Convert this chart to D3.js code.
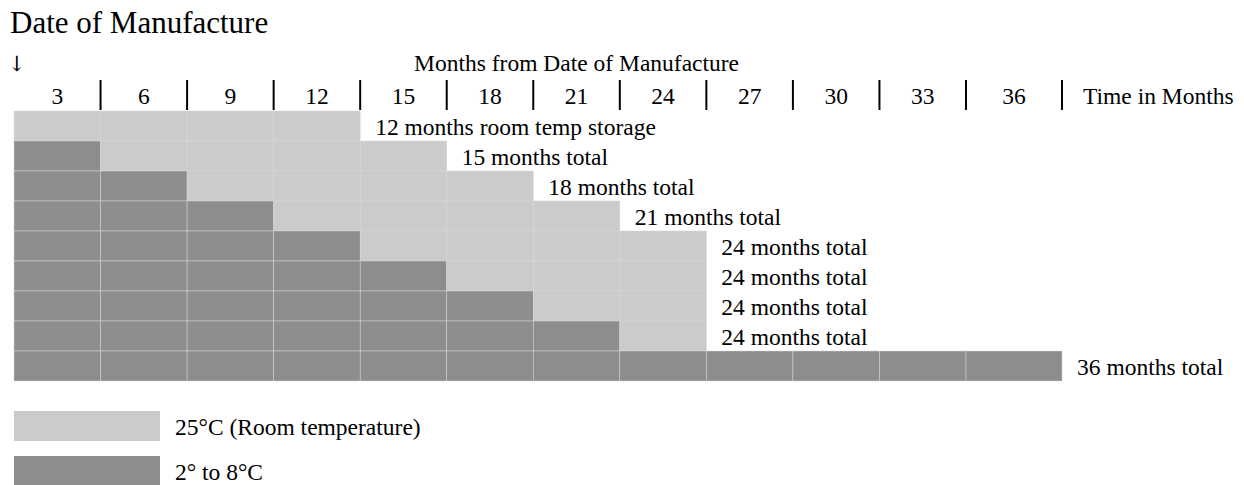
<!DOCTYPE html>
<meta http-equiv="content-type" content="text/html; charset=utf-8">
<style>
body { margin:0; background:#fff; }
text { font-family:"Liberation Serif","Times New Roman",serif; fill:#000; }
</style>
<body>
<div id="chart"></div>
<script src="https://d3js.org/d3.v7.min.js"></script>
<script>
// months at which the header separators sit
var tickMonths = [3, 6, 9, 12, 15, 18, 21, 24, 27, 30, 33, 36];
// each row: months at 2-8 C first, then months at room temp
var coldMonths = [0, 3, 6, 9, 12, 15, 18, 21, 36];
var roomMonths = [12, 12, 12, 12, 12, 9, 6, 3, 0];
var barLabels = ["12 months room temp storage", "15 months total", "18 months total",
  "21 months total", "24 months total", "24 months total", "24 months total",
  "24 months total", "36 months total"];
var legendLabels = ["25°C (Room temperature)", "2° to 8°C"];

var width = 1244, height = 485;
var lightGrey = "#cbcbcb", darkGrey = "#8d8d8d";

var svg = d3.select("#chart").append("svg")
    .attr("width", width)
    .attr("height", height);

var x = d3.scaleLinear()
    .domain([0, 33, 36])
    .range([14, 966, 1062]);

var y = d3.scaleBand()
    .domain(d3.range(coldMonths.length))
    .range([111, 381]);

var fill = d3.scaleOrdinal()
    .domain(["room", "cold"])
    .range([lightGrey, darkGrey]);

// title + header
svg.append("text")
  .attr("x", 10).attr("y", 33)
  .attr("font-size", 31)
  .text("Date of Manufacture");

svg.append("text")
  .attr("x", 8).attr("y", 71)
  .style("font-family", "DejaVu Serif, DejaVu Sans")
  .style("font-size", "21px")
  .text("↓");

svg.append("text")
  .attr("x", x(19.5)).attr("y", 71)
  .attr("font-size", 23.5)
  .attr("text-anchor", "middle")
  .text("Months from Date of Manufacture");

var hdr = svg.append("g");
hdr.selectAll("line")
  .data(tickMonths)
  .enter().append("line")
    .attr("x1", function(d) { return x(d); })
    .attr("x2", function(d) { return x(d); })
    .attr("y1", 80).attr("y2", 110)
    .attr("stroke", "#000")
    .attr("stroke-width", 2);

hdr.selectAll("text")
  .data(tickMonths)
  .enter().append("text")
    .attr("x", function(d) { return (x(d - 3) + x(d)) / 2; })
    .attr("y", 104)
    .attr("font-size", 23.5)
    .attr("text-anchor", "middle")
    .text(function(d) { return d; });

svg.append("text")
  .attr("x", x(36) + 21).attr("y", 104)
  .attr("font-size", 23.5)
  .text("Time in Months");

// bars, drawn as 3-month pieces so the faint seams show
var segs = [];
coldMonths.forEach(function(c, i) {
  var total = c + roomMonths[i];
  for (var m = 0; m < total; m += 3) {
    segs.push({row: i, start: m, end: Math.min(m + 3, total), kind: m < c ? "cold" : "room"});
  }
});

svg.append("g").selectAll("rect")
  .data(segs)
  .enter().append("rect")
    .attr("x", function(d) { return x(d.start); })
    .attr("y", function(d) { return y(d.row); })
    .attr("width", function(d) { return x(d.end) - x(d.start); })
    .attr("height", y.bandwidth())
    .attr("fill", function(d) { return fill(d.kind); })
    .attr("stroke", "#d6d6d6")
    .attr("stroke-width", 0.5);

svg.append("g").selectAll("text")
  .data(barLabels)
  .enter().append("text")
    .attr("x", function(d, i) { return x(coldMonths[i] + roomMonths[i]) + 15; })
    .attr("y", function(d, i) { return y(i) + y.bandwidth() - 6; })
    .attr("font-size", 23.5)
    .text(function(d) { return d; });

// legend
var leg = svg.append("g").selectAll("g")
  .data(legendLabels)
  .enter().append("g")
    .attr("transform", function(d, i) { return "translate(14," + (411 + i * 45) + ")"; });

leg.append("rect")
  .attr("width", 146).attr("height", 30)
  .attr("fill", function(d, i) { return i ? darkGrey : lightGrey; });

leg.append("text")
  .attr("x", 161).attr("y", 24)
  .attr("font-size", 23.5)
  .text(function(d) { return d; });
</script>
</body>
</html>
